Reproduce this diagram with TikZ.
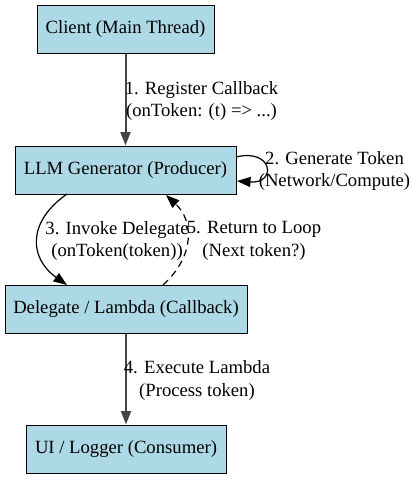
\documentclass[tikz,border=0pt]{standalone}
\usepackage{fontspec}
\setmainfont{Liberation Serif}
\usetikzlibrary{arrows.meta}
\definecolor{boxfill}{HTML}{ADD8E6}
\definecolor{edgegray}{HTML}{444444}
\tikzset{
  stagebox/.style={draw=black, fill=boxfill, line width=1pt, minimum height=48pt, inner sep=0pt},
  mainedge/.style={draw=edgegray, line width=2pt, -{Triangle[length=13.5pt,width=10pt]}},
  sideedge/.style={draw=black, line width=1.2pt, -{Triangle[length=13.5pt,width=10pt]}},
  elabel/.style={align=center, inner sep=0pt, font=\fontsize{18.67}{22.4}\selectfont},
}
\begin{document}
\begin{tikzpicture}[x=1pt,y=-1pt]
\useasboundingbox (0,0) rectangle (412,479);
\begin{scope}[every node/.append style={font=\fontsize{18.67}{22.4}\selectfont}]
\node[stagebox, minimum width=177pt] (client) at (125.5,29) {Client (Main Thread)};
\node[stagebox, minimum width=221pt] (llm) at (125.5,170) {LLM Generator (Producer)};
\node[stagebox, minimum width=242pt] (del) at (126,309) {Delegate / Lambda (Callback)};
\node[stagebox, minimum width=200pt] (ui) at (126,449) {UI / Logger (Consumer)};
\end{scope}
% edge 1
\draw[mainedge] (client.south) -- (llm.north);
\node[elabel] (l1) at (201.5,101) {1. Register Callback\\(onToken: (t) => ...)};
% self loop
\coordinate (s0) at (236,157);
\coordinate (s1) at (237,181);
\draw[sideedge] (s0) .. controls (273,148) and (277,184) .. (s1);
\node[elabel] (l2) at (334.5,171) {2. Generate Token\\(Network/Compute)};
% edge 3
\coordinate (a3) at (67,194);
\coordinate (b3) at (67,285);
\draw[sideedge] (a3) .. controls (27,222) and (29,258) .. (b3);
\node[elabel] (l3) at (117,241) {3. Invoke Delegate\\(onToken(token))};
% edge 5
\coordinate (a5) at (163,285);
\coordinate (b5) at (166,195);
\draw[sideedge, dash pattern=on 7pt off 5pt] (a5) .. controls (196,255) and (193,220) .. (b5);
\node[elabel] (l5) at (254,241) {5. Return to Loop\\(Next token?)};
% edge 4
\draw[mainedge] (del.south) -- (ui.north);
\node[elabel] (l4) at (197,380.5) {4. Execute Lambda\\(Process token)};
\end{tikzpicture}
\end{document}
